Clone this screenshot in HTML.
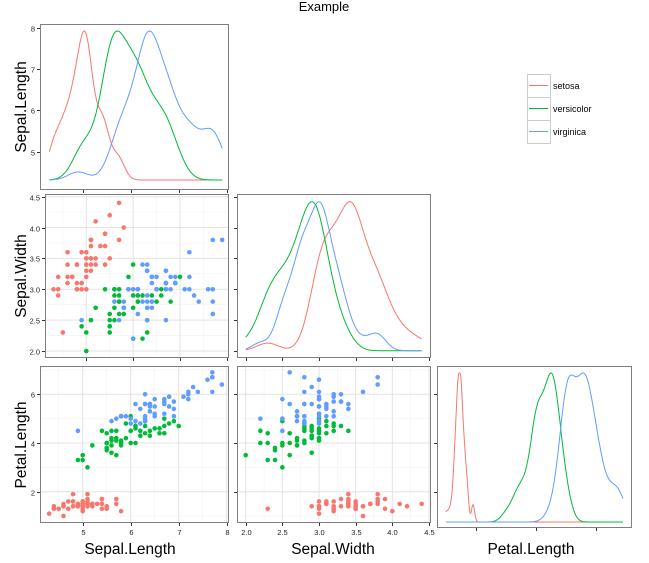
<!DOCTYPE html>
<html><head><meta charset="utf-8"><style>
body{margin:0;background:#fff;}
svg{display:block;font-family:"Liberation Sans",sans-serif;}
</style></head><body>
<svg id="chart" width="649" height="563">
<text x="324" y="11" text-anchor="middle" font-size="13" fill="#000">Example</text>
<g>
<rect x="527.5" y="74.5" width="23" height="69" fill="#fff" stroke="#ccc"/>
<line x1="527" y1="97.5" x2="551" y2="97.5" stroke="#ccc"/>
<line x1="527" y1="120.5" x2="551" y2="120.5" stroke="#ccc"/>
<line x1="529" y1="85.5" x2="548" y2="85.5" stroke="#F8766D"/>
<line x1="529" y1="108.5" x2="548" y2="108.5" stroke="#00BA38"/>
<line x1="529" y1="131.5" x2="548" y2="131.5" stroke="#619CFF"/>
<text x="553" y="89" font-size="9">setosa</text>
<text x="553" y="112" font-size="9">versicolor</text>
<text x="553" y="135" font-size="9">virginica</text>
</g>
<text x="130" y="554" text-anchor="middle" font-size="15.5">Sepal.Length</text>
<text x="333" y="554" text-anchor="middle" font-size="15.5">Sepal.Width</text>
<text x="531" y="554" text-anchor="middle" font-size="15.5">Petal.Length</text>
<text transform="translate(26,107) rotate(-90)" text-anchor="middle" font-size="15.5">Sepal.Length</text>
<text transform="translate(26,276) rotate(-90)" text-anchor="middle" font-size="15.5">Sepal.Width</text>
<text transform="translate(26,445) rotate(-90)" text-anchor="middle" font-size="15.5">Petal.Length</text>
</svg>
<script>
const species = ["setosa","versicolor","virginica"];
const colors = ["#F8766D","#00BA38","#619CFF"];
const sepalLength = [
[5.1,4.9,4.7,4.6,5.0,5.4,4.6,5.0,4.4,4.9,5.4,4.8,4.8,4.3,5.8,5.7,5.4,5.1,5.7,5.1,5.4,5.1,4.6,5.1,4.8,5.0,5.0,5.2,5.2,4.7,4.8,5.4,5.2,5.5,4.9,5.0,5.5,4.9,4.4,5.1,5.0,4.5,4.4,5.0,5.1,4.8,5.1,4.6,5.3,5.0],
[7.0,6.4,6.9,5.5,6.5,5.7,6.3,4.9,6.6,5.2,5.0,5.9,6.0,6.1,5.6,6.7,5.6,5.8,6.2,5.6,5.9,6.1,6.3,6.1,6.4,6.6,6.8,6.7,6.0,5.7,5.5,5.5,5.8,6.0,5.4,6.0,6.7,6.3,5.6,5.5,5.5,6.1,5.8,5.0,5.6,5.7,5.7,6.2,5.1,5.7],
[6.3,5.8,7.1,6.3,6.5,7.6,4.9,7.3,6.7,7.2,6.5,6.4,6.8,5.7,5.8,6.4,6.5,7.7,7.7,6.0,6.9,5.6,7.7,6.3,6.7,7.2,6.2,6.1,6.4,7.2,7.4,7.9,6.4,6.3,6.1,7.7,6.3,6.4,6.0,6.9,6.7,6.9,5.8,6.8,6.7,6.7,6.3,6.5,6.2,5.9]];
const sepalWidth = [
[3.5,3.0,3.2,3.1,3.6,3.9,3.4,3.4,2.9,3.1,3.7,3.4,3.0,3.0,4.0,4.4,3.9,3.5,3.8,3.8,3.4,3.7,3.6,3.3,3.4,3.0,3.4,3.5,3.4,3.2,3.1,3.4,4.1,4.2,3.1,3.2,3.5,3.6,3.0,3.4,3.5,2.3,3.2,3.5,3.8,3.0,3.8,3.2,3.7,3.3],
[3.2,3.2,3.1,2.3,2.8,2.8,3.3,2.4,2.9,2.7,2.0,3.0,2.2,2.9,2.9,3.1,3.0,2.7,2.2,2.5,3.2,2.8,2.5,2.8,2.9,3.0,2.8,3.0,2.9,2.6,2.4,2.4,2.7,2.7,3.0,3.4,3.1,2.3,3.0,2.5,2.6,3.0,2.6,2.3,2.7,3.0,2.9,2.9,2.5,2.8],
[3.3,2.7,3.0,2.9,3.0,3.0,2.5,2.9,2.5,3.6,3.2,2.7,3.0,2.5,2.8,3.2,3.0,3.8,2.6,2.2,3.2,2.8,2.8,2.7,3.3,3.2,2.8,3.0,2.8,3.0,2.8,3.8,2.8,2.8,2.6,3.0,3.4,3.1,3.0,3.1,3.1,3.1,2.7,3.2,3.3,3.0,2.5,3.0,3.4,3.0]];
const petalLength = [
[1.4,1.4,1.3,1.5,1.4,1.7,1.4,1.5,1.4,1.5,1.5,1.6,1.4,1.1,1.2,1.5,1.3,1.4,1.7,1.5,1.7,1.5,1.0,1.7,1.9,1.6,1.6,1.5,1.4,1.6,1.6,1.5,1.5,1.4,1.5,1.2,1.3,1.4,1.3,1.5,1.3,1.3,1.3,1.6,1.9,1.4,1.6,1.4,1.5,1.4],
[4.7,4.5,4.9,4.0,4.6,4.5,4.7,3.3,4.6,3.9,3.5,4.2,4.0,4.7,3.6,4.4,4.5,4.1,4.5,3.9,4.8,4.0,4.9,4.7,4.3,4.4,4.8,5.0,4.5,3.5,3.8,3.7,3.9,5.1,4.5,4.5,4.7,4.4,4.1,4.0,4.4,4.6,4.0,3.3,4.2,4.2,4.2,4.3,3.0,4.1],
[6.0,5.1,5.9,5.6,5.8,6.6,4.5,6.3,5.8,6.1,5.1,5.3,5.5,5.0,5.1,5.3,5.5,6.7,6.9,5.0,5.7,4.9,6.7,4.9,5.7,6.0,4.8,4.9,5.6,5.8,6.1,6.4,5.6,5.1,5.6,6.1,5.6,5.5,4.8,5.4,5.6,5.1,5.1,5.9,5.7,5.2,5.0,5.2,5.4,5.1]];
const slTicks = [5,6,7,8];
const slTicksRow2 = [5,6,7];
const swTicks = [2.0,2.5,3.0,3.5,4.0,4.5];
const plTicks = [2,4,6];
const plTicksDensity = [2,4,6];

const NS="http://www.w3.org/2000/svg";
const svg=document.getElementById('chart');
function el(tag,attrs,parent){const e=document.createElementNS(NS,tag);for(const k in attrs)e.setAttribute(k,attrs[k]);(parent||svg).appendChild(e);return e;}
function lin(d0,d1,r0,r1){return v=>r0+(v-d0)*(r1-r0)/(d1-d0);}
const slX1=lin(5,8,83,227), slY1=lin(5,8,151.7,28);
const slX2=lin(5,7,86.3,180), swY=lin(2,4.5,351,196.7);
const swX=lin(2,4.5,245.7,429);
const slX3=lin(5,8,82.7,226.7), plY=lin(2,6,491.7,394.3);
const plX=lin(2,6,476,596);
let clipN=0;
function panel(name,x0,y0,x1,y1,opt){
  const g=el('g',{});
  
  
  const id='clip'+(clipN++);
  const cp=el('clipPath',{id:id},g);el('rect',{x:x0,y:y0,width:x1-x0,height:y1-y0},cp);
  const inner=el('g',{'clip-path':'url(#'+id+')'},g);
  if(opt.grid){
    const gx=opt.gridX, gy=opt.gridY;
    gx.minor.forEach(v=>el('line',{x1:gx.s(v),x2:gx.s(v),y1:y0,y2:y1,stroke:'#f2f2f2','stroke-width':0.6},inner));
    gy.minor.forEach(v=>el('line',{y1:gy.s(v),y2:gy.s(v),x1:x0,x2:x1,stroke:'#f2f2f2','stroke-width':0.6},inner));
    gx.major.forEach(v=>el('line',{x1:gx.s(v),x2:gx.s(v),y1:y0,y2:y1,stroke:'#e3e3e3','stroke-width':1},inner));
    gy.major.forEach(v=>el('line',{y1:gy.s(v),y2:gy.s(v),x1:x0,x2:x1,stroke:'#e3e3e3','stroke-width':1},inner));
  }
  el('rect',{x:x0+0.5,y:y0+0.5,width:x1-x0-1,height:y1-y0-1,fill:'none',stroke:'#7f7f7f','stroke-width':1},g);
  opt.xt.vals.forEach(v=>{const x=Math.round(opt.xt.s(v))+0.5;el('line',{x1:x,x2:x,y1:y1,y2:y1+3,stroke:'#333'},g);
    if(opt.xt.labels){const t=el('text',{x:x,y:y1+12,'text-anchor':'middle','font-size':7.5,fill:'#222'},g);t.textContent=opt.xt.fmt(v);}});
  opt.yt.vals.forEach(v=>{const y=Math.round(opt.yt.s(v))+0.5;el('line',{x1:x0-3,x2:x0,y1:y,y2:y,stroke:'#333'},g);
    if(opt.yt.labels){const t=el('text',{x:x0-5,y:y+3,'text-anchor':'end','font-size':7.5,fill:'#222'},g);t.textContent=opt.yt.fmt(v);}});
  return inner;
}
function scatter(g,xs,ys,sx,sy){
  for(let k=0;k<3;k++){for(let i=0;i<xs[k].length;i++){
    const c=el('circle',{cx:sx(xs[k][i]),cy:sy(ys[k][i]),r:2.3,fill:colors[k]},g);
    
    
  }}
}
function sd(a){const m=a.reduce((s,v)=>s+v,0)/a.length;return Math.sqrt(a.reduce((s,v)=>s+(v-m)*(v-m),0)/(a.length-1));}
function quant(a,p){const s=[...a].sort((x,y)=>x-y);const h=(s.length-1)*p;const l=Math.floor(h);return s[l]+(h-l)*((s[Math.min(l+1,s.length-1)])-s[l]);}
function density(g,data,sx,base,peak){
  const all=data.flat();const lo=Math.min(...all),hi=Math.max(...all);
  for(let k=0;k<3;k++){
    const a=data[k];const iqr=quant(a,0.75)-quant(a,0.25);
    const bw=0.9*Math.min(sd(a),iqr/1.34)*Math.pow(a.length,-0.2);
    const pts=[];let mx=0;
    for(let j=0;j<=300;j++){const x=lo+(hi-lo)*j/300;let d=0;a.forEach(v=>{const z=(x-v)/bw;d+=Math.exp(-0.5*z*z);});pts.push([x,d]);if(d>mx)mx=d;}
    const p=pts.map(q=>sx(q[0]).toFixed(1)+','+(base-q[1]/mx*(base-peak)).toFixed(1)).join(' ');
    const pl=el('polyline',{points:p,fill:'none',stroke:colors[k],'stroke-width':1},g);
    
    
  }
}
const f0=v=>String(v), f1=v=>v.toFixed(1);
let g=panel('panel-sepal-length-density',40,24,229,190,{xt:{vals:slTicks,s:slX1,labels:false},yt:{vals:slTicks,s:slY1,labels:true,fmt:f0}});
density(g,sepalLength,slX1,180,31);
g=panel('panel-sepal-width-vs-sepal-length',45,194,229,358,{grid:true,gridX:{s:slX2,major:slTicksRow2,minor:[4.5,5.5,6.5,7.5]},gridY:{s:swY,major:swTicks,minor:[2.25,2.75,3.25,3.75,4.25]},xt:{vals:slTicksRow2.concat([8]),s:slX2,labels:false},yt:{vals:swTicks,s:swY,labels:true,fmt:f1}});
scatter(g,sepalLength,sepalWidth,slX2,swY);
g=panel('panel-sepal-width-density',237,194,431,358,{xt:{vals:swTicks,s:swX,labels:false},yt:{vals:swTicks,s:swY,labels:false}});
density(g,sepalWidth,swX,350.7,201.7);
g=panel('panel-petal-length-vs-sepal-length',40,366,229,523,{grid:true,gridX:{s:slX3,major:slTicks,minor:[4.5,5.5,6.5,7.5]},gridY:{s:plY,major:plTicks,minor:[1,3,5,7]},xt:{vals:slTicks,s:slX3,labels:true,fmt:f0},yt:{vals:plTicks,s:plY,labels:true,fmt:f0}});
scatter(g,sepalLength,petalLength,slX3,plY);
g=panel('panel-petal-length-vs-sepal-width',237,366,431,523,{grid:true,gridX:{s:swX,major:swTicks,minor:[2.25,2.75,3.25,3.75,4.25]},gridY:{s:plY,major:plTicks,minor:[1,3,5,7]},xt:{vals:swTicks,s:swX,labels:true,fmt:f1},yt:{vals:plTicks,s:plY,labels:false}});
scatter(g,sepalWidth,petalLength,swX,plY);
g=panel('panel-petal-length-density',437,366,632,528,{xt:{vals:plTicksDensity,s:plX,labels:false},yt:{vals:plTicks,s:plY,labels:false}});
density(g,petalLength,plX,522,373);
</script>
</body></html>
